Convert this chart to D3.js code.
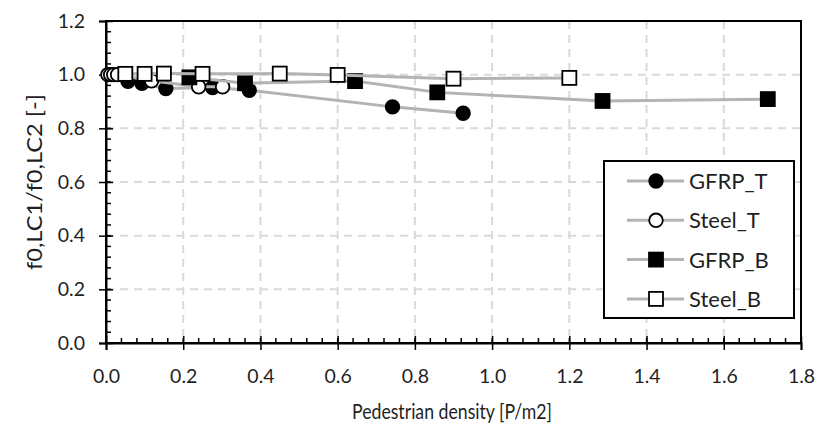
<!DOCTYPE html>
<html>
<head>
<meta charset="utf-8">
<script src="https://cdn.jsdelivr.net/npm/d3@7/dist/d3.min.js"></script>
<style>
  html, body { margin: 0; padding: 0; background: #fff; }
  svg { display: block; font-family: Lato, "Open Sans", sans-serif; }
</style>
</head>
<body>
<svg id="chart" width="819" height="432"></svg>
<script>
// Frequency ratio against pedestrian density, four configurations
const seriesNames = ["GFRP_T", "Steel_T", "GFRP_B", "Steel_B"];
const gfrpT_x = [0.057, 0.093, 0.155, 0.276, 0.371, 0.742, 0.925];
const gfrpT_y = [0.975, 0.968, 0.948, 0.952, 0.942, 0.880, 0.856];
const steelT_x = [0.005, 0.012, 0.020, 0.030, 0.118, 0.240, 0.302];
const steelT_y = [1.000, 1.000, 1.000, 1.000, 0.977, 0.955, 0.955];
const gfrpB_x = [0.216, 0.360, 0.645, 0.858, 1.286, 1.714];
const gfrpB_y = [0.990, 0.968, 0.976, 0.934, 0.902, 0.909];
const steelB_x = [0.050, 0.100, 0.150, 0.250, 0.450, 0.600, 0.900, 1.200];
const steelB_y = [1.003, 1.003, 1.004, 1.003, 1.004, 0.999, 0.985, 0.988];
const xTicks = [0, 0.2, 0.4, 0.6, 0.8, 1.0, 1.2, 1.4, 1.6, 1.8];
const yTicks = [0, 0.2, 0.4, 0.6, 0.8, 1.0, 1.2];

const series = [
  { name: seriesNames[0], xs: gfrpT_x, ys: gfrpT_y, shape: "circle", fill: "#000" },
  { name: seriesNames[1], xs: steelT_x, ys: steelT_y, shape: "circle", fill: "#fff" },
  { name: seriesNames[2], xs: gfrpB_x, ys: gfrpB_y, shape: "square", fill: "#000" },
  { name: seriesNames[3], xs: steelB_x, ys: steelB_y, shape: "square", fill: "#fff" }
];

const svg = d3.select("#chart");
const L = 106, R = 801, T = 21, B = 343;
const x = d3.scaleLinear().domain([0, 1.8]).range([L, R]);
const y = d3.scaleLinear().domain([0, 1.2]).range([B, T]);
const textColor = "#1f1f1f";
const tickFont = 19.5;

// dashed grid
const grid = svg.append("g");
grid.selectAll("line.gx").data(xTicks.slice(1, -1)).join("line")
  .attr("x1", d => x(d)).attr("x2", d => x(d)).attr("y1", T).attr("y2", B)
  .attr("stroke", "#d9d9d9").attr("stroke-width", 2).attr("stroke-dasharray", "8,6");
grid.selectAll("line.gy").data(yTicks.slice(1, -1)).join("line")
  .attr("y1", d => y(d)).attr("y2", d => y(d)).attr("x1", L).attr("x2", R)
  .attr("stroke", "#d9d9d9").attr("stroke-width", 2).attr("stroke-dasharray", "8,6");

// frame
svg.append("rect").attr("x", L).attr("y", T).attr("width", R - L).attr("height", B - T)
  .attr("fill", "none").attr("stroke", "#000").attr("stroke-width", 2);

// minor ticks, pointing into the plot
const xMinor = d3.range(0, 1.8001, 0.04);
const yMinor = d3.range(0, 1.2001, 0.04);
svg.append("g").selectAll("line").data(xMinor).join("line")
  .attr("x1", d => x(d)).attr("x2", d => x(d)).attr("y1", B).attr("y2", B - 5)
  .attr("stroke", "#000").attr("stroke-width", 1.5);
svg.append("g").selectAll("line").data(yMinor).join("line")
  .attr("y1", d => y(d)).attr("y2", d => y(d)).attr("x1", L).attr("x2", L + 5)
  .attr("stroke", "#000").attr("stroke-width", 1.5);

// axes with crossing major ticks
const xAxis = svg.append("g").attr("transform", `translate(0,${B})`)
  .call(d3.axisBottom(x).tickValues(xTicks).tickFormat(d3.format(".1f")).tickSize(7).tickPadding(19));
xAxis.select(".domain").attr("stroke-width", 2);
xAxis.selectAll(".tick line").attr("y1", -7).attr("stroke-width", 1.5);
xAxis.selectAll("text").attr("font-size", tickFont).attr("fill", textColor).attr("font-family", "Lato");

const yAxis = svg.append("g").attr("transform", `translate(${L},0)`)
  .call(d3.axisLeft(y).tickValues(yTicks).tickFormat(d3.format(".1f")).tickSize(7).tickPadding(14));
yAxis.select(".domain").attr("stroke-width", 2);
yAxis.selectAll(".tick line").attr("x1", 7).attr("x2", -7).attr("stroke-width", 1.5);
yAxis.selectAll("text").attr("font-size", tickFont).attr("fill", textColor).attr("font-family", "Lato");

// axis titles, set in a narrow run
svg.append("text").attr("x", 452).attr("y", 419).attr("text-anchor", "middle")
  .attr("font-size", 21).attr("fill", textColor)
  .attr("textLength", 200).attr("lengthAdjust", "spacingAndGlyphs")
  .text("Pedestrian density [P/m2]");
svg.append("text").attr("transform", `translate(42,${(T + B) / 2}) rotate(-90)`)
  .attr("text-anchor", "middle").attr("font-size", 21).attr("fill", textColor)
  .attr("textLength", 176).attr("lengthAdjust", "spacingAndGlyphs")
  .text("f0,LC1/f0,LC2 [-]");

// markers
function drawMarker(g, shape, fill, cx, cy) {
  if (shape === "circle") {
    g.append("circle").attr("cx", cx).attr("cy", cy).attr("r", 6.8)
      .attr("fill", fill).attr("stroke", "#000").attr("stroke-width", 1.8);
  } else {
    g.append("rect").attr("x", cx - 7).attr("y", cy - 7).attr("width", 14).attr("height", 14)
      .attr("fill", fill).attr("stroke", "#000").attr("stroke-width", 1.8);
  }
}

const line = d3.line().x(d => x(d[0])).y(d => y(d[1]));
series.forEach(s => {
  const pts = s.xs.map((v, i) => [v, s.ys[i]]);
  const g = svg.append("g");
  g.append("path").datum(pts).attr("d", line).attr("fill", "none")
    .attr("stroke", "#b3b3b3").attr("stroke-width", 3);
  pts.forEach(p => drawMarker(g, s.shape, s.fill, x(p[0]), y(p[1])));
});

// legend
const lg = svg.append("g");
lg.append("rect").attr("x", 604).attr("y", 161).attr("width", 190).attr("height", 157)
  .attr("fill", "#fff").attr("stroke", "#000").attr("stroke-width", 2);
series.forEach((s, i) => {
  const cy = 181 + i * 39.3;
  lg.append("line").attr("x1", 627).attr("x2", 684).attr("y1", cy).attr("y2", cy)
    .attr("stroke", "#b3b3b3").attr("stroke-width", 3);
  drawMarker(lg, s.shape, s.fill, 656, cy);
  lg.append("text").attr("x", 689).attr("y", cy).attr("dy", "0.36em")
    .attr("font-size", 22).attr("fill", textColor).text(s.name);
});
</script>
</body>
</html>
